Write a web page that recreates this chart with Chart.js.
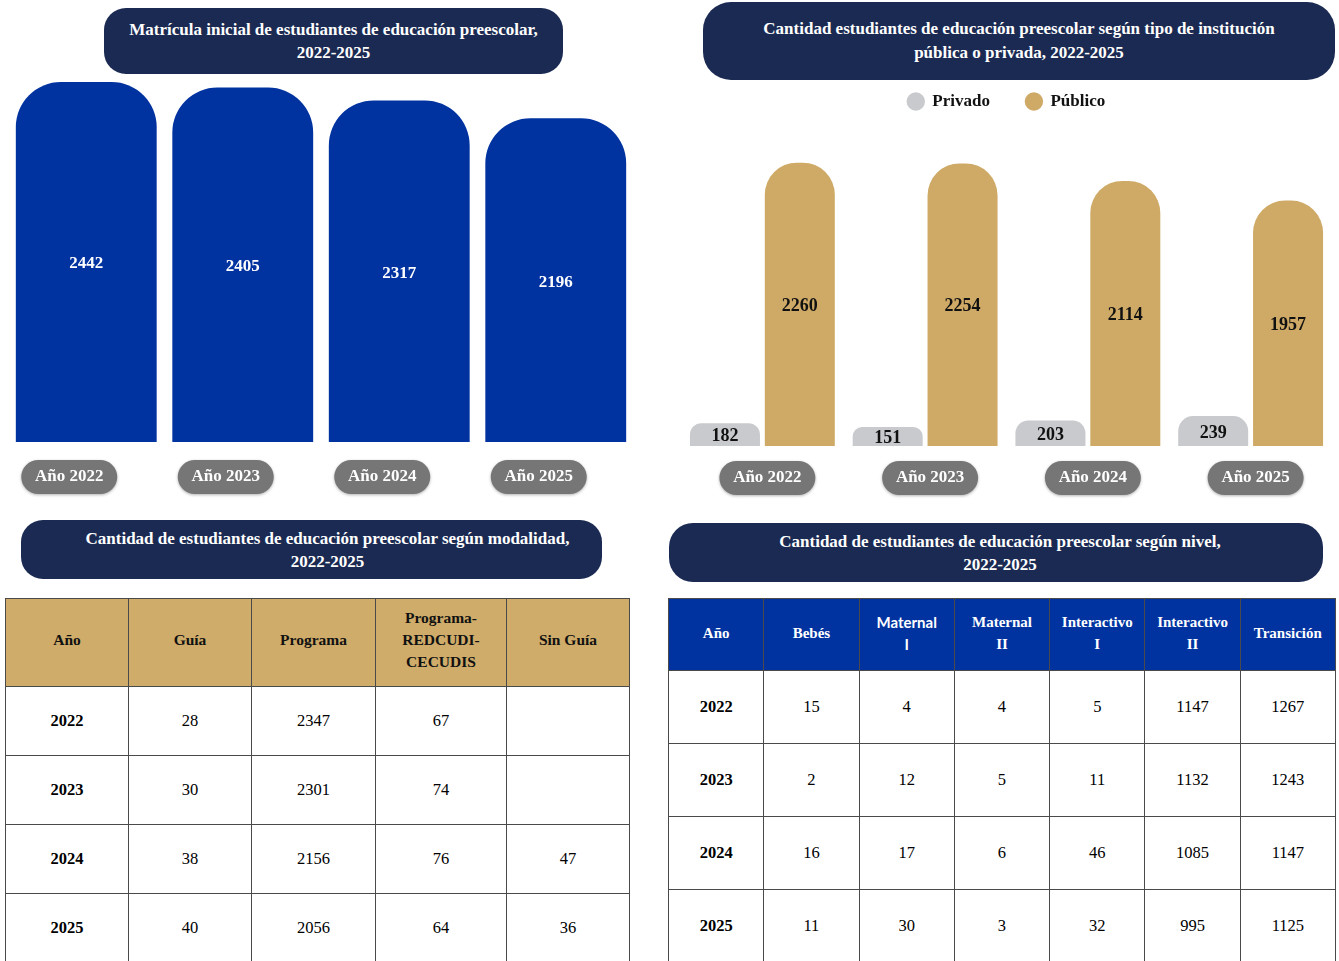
<!DOCTYPE html>
<html lang="es">
<head>
<meta charset="utf-8">
<title>Educación preescolar 2022-2025</title>
<script src="https://cdn.jsdelivr.net/npm/chart.js@4.4.1/dist/chart.umd.min.js"></script>
<style>
  body { margin: 0; background: #fff; font-family: "Liberation Serif", "Times New Roman", serif; }
  #hoja { position: relative; width: 1339px; height: 961px; overflow: hidden; }
  .titulo {
    position: absolute; box-sizing: border-box; background: #1b2a52; color: #fff;
    font-weight: bold; font-size: 17px; text-align: center;
    display: flex; flex-direction: column; justify-content: center;
  }
  .caja { position: absolute; }
  table { position: absolute; border-collapse: collapse; table-layout: fixed; }
  td, th { border: 1px solid #4a4a4a; text-align: center; padding: 0; font-size: 16.5px; }
  th { font-size: 15.5px; line-height: 22px; }
  #tablaModalidad th { background: #cfac69; color: #111; height: 88px; padding-bottom: 6px; box-sizing: border-box; }
  #tablaModalidad td { height: 68px; }
  #tablaNivel th { background: #0033a0; color: #fff; height: 72px; font-size: 15px; padding-bottom: 4px; box-sizing: border-box; }
  #tablaNivel td { height: 72px; }
  td.anio { font-weight: bold; }
  th.sans { font-family: Lato, "Liberation Sans", sans-serif; font-size: 17px; }
</style>
</head>
<body>
<div id="hoja">
  <div class="titulo" style="left:104px;top:8px;width:459px;height:66px;border-radius:22px;line-height:23px;">
    <div>Matrícula inicial de estudiantes de educación preescolar,</div><div>2022-2025</div>
  </div>
  <div class="titulo" style="left:703px;top:2px;width:632px;height:78px;border-radius:28px;line-height:24px;">
    <div>Cantidad estudiantes de educación preescolar según tipo de institución</div><div>pública o privada, 2022-2025</div>
  </div>
  <div class="titulo" style="left:21px;top:520px;width:581px;height:59px;border-radius:22px;line-height:23px;padding-left:32px;">
    <div>Cantidad de estudiantes de educación preescolar según modalidad,</div><div>2022-2025</div>
  </div>
  <div class="titulo" style="left:669px;top:523px;width:654px;height:59px;border-radius:24px;line-height:23px;padding-left:8px;">
    <div>Cantidad de estudiantes de educación preescolar según nivel,</div><div>2022-2025</div>
  </div>

  <div class="caja" style="left:0;top:80px;width:660px;height:426px;"><canvas id="graficoMatricula"></canvas></div>
  <div class="caja" style="left:680px;top:57px;width:659px;height:453px;"><canvas id="graficoTipo"></canvas></div>

  <table id="tablaModalidad" style="left:5px;top:598px;width:624px;">
    <colgroup><col style="width:123px"><col style="width:123px"><col style="width:124px"><col style="width:131px"><col style="width:123px"></colgroup>
  </table>
  <table id="tablaNivel" style="left:668px;top:598px;width:668px;"></table>
</div>

<script>
const anios = ['Año 2022', 'Año 2023', 'Año 2024', 'Año 2025'];
const matricula = [2442, 2405, 2317, 2196];
const privado = [182, 151, 203, 239];
const publico = [2260, 2254, 2114, 1957];

const aniosTabla = ['2022', '2023', '2024', '2025'];
const columnasModalidad = ['Año', 'Guía', 'Programa', 'Programa-<br>REDCUDI-<br>CECUDIS', 'Sin Guía'];
const guia = [28, 30, 38, 40];
const programa = [2347, 2301, 2156, 2056];
const redcudi = [67, 74, 76, 64];
const sinGuia = [null, null, 47, 36];

const columnasNivel = ['Año', 'Bebés', 'Maternal<br>I', 'Maternal<br>II', 'Interactivo<br>I', 'Interactivo<br>II', 'Transición'];
const bebes = [15, 2, 16, 11];
const maternal1 = [4, 12, 17, 30];
const maternal2 = [4, 5, 6, 3];
const interactivo1 = [5, 11, 46, 32];
const interactivo2 = [1147, 1132, 1085, 995];
const transicion = [1267, 1243, 1147, 1125];

const fuenteBold = { family: '"Liberation Serif", "Times New Roman", serif', weight: 'bold' };

// Etiquetas de valor dentro de cada barra
const etiquetas = {
  id: 'etiquetas',
  afterDatasetsDraw(chart, args, opts) {
    const ctx = chart.ctx;
    ctx.save();
    ctx.textAlign = 'center';
    ctx.textBaseline = 'middle';
    chart.data.datasets.forEach((ds, i) => {
      const meta = chart.getDatasetMeta(i);
      ctx.fillStyle = opts.color;
      ctx.font = `bold ${opts.size}px ${fuenteBold.family}`;
      meta.data.forEach((bar, j) => {
        const { x, y, base } = bar.getProps(['x', 'y', 'base'], true);
        ctx.fillText(ds.data[j], x, (y + base) / 2 + 2);
      });
    });
    ctx.restore();
  }
};

// Fondo gris redondeado detrás de las etiquetas del eje x
const pastillas = {
  id: 'pastillas',
  beforeDraw(chart, args, opts) {
    const escala = chart.scales.x;
    const ctx = chart.ctx;
    ctx.save();
    ctx.fillStyle = '#767676';
    ctx.shadowColor = 'rgba(0,0,0,0.3)';
    ctx.shadowBlur = 3;
    ctx.shadowOffsetY = 1;
    escala.ticks.forEach((t, i) => {
      const cx = escala.getPixelForTick(i) + opts.dx;
      const cy = escala.top + opts.dy;
      const w = 96, h = 34;
      ctx.beginPath();
      ctx.roundRect(cx - w / 2, cy - h / 2, w, h, h / 2);
      ctx.fill();
    });
    ctx.restore();
  }
};

function ejeX(padding, desplazamiento) {
  return {
    grid: { display: false, drawTicks: false },
    border: { display: false },
    ticks: { color: '#fff', font: { ...fuenteBold, size: 17 }, padding: padding, labelOffset: desplazamiento },
    afterFit: (s) => { s.height = 64; }
  };
}

new Chart(document.getElementById('graficoMatricula'), {
  type: 'bar',
  data: {
    labels: anios,
    datasets: [{
      label: 'Matrícula',
      data: matricula,
      backgroundColor: '#0033a0',
      borderRadius: { topLeft: 45, topRight: 45 },
      borderSkipped: 'bottom',
      categoryPercentage: 1,
      barPercentage: 0.9
    }]
  },
  options: {
    responsive: true,
    maintainAspectRatio: false,
    animation: false,
    layout: { padding: { top: 2, left: 8, right: 26, bottom: 0 } },
    scales: {
      x: ejeX(24, -17),
      y: { display: false, min: 0, max: Math.max(...matricula) }
    },
    plugins: {
      legend: { display: false },
      tooltip: { enabled: false },
      etiquetas: { color: '#fff', size: 17 },
      pastillas: { dx: -17, dy: 35 }
    }
  },
  plugins: [pastillas, etiquetas]
});

new Chart(document.getElementById('graficoTipo'), {
  type: 'bar',
  data: {
    labels: anios,
    datasets: [
      {
        label: 'Privado',
        data: privado,
        backgroundColor: '#c8cacd',
        borderRadius: { topLeft: 30, topRight: 30 },
        borderSkipped: 'bottom',
        categoryPercentage: 0.92,
        barPercentage: 0.935
      },
      {
        label: 'Público',
        data: publico,
        backgroundColor: '#cfaa66',
        borderRadius: { topLeft: 32, topRight: 32 },
        borderSkipped: 'bottom',
        categoryPercentage: 0.92,
        barPercentage: 0.935
      }
    ]
  },
  options: {
    responsive: true,
    maintainAspectRatio: false,
    animation: false,
    layout: { padding: { top: 0, left: 1, right: 7, bottom: 0 } },
    scales: {
      x: ejeX(21, 5),
      y: { display: false, min: 0, max: 2600 }
    },
    plugins: {
      legend: {
        position: 'top',
        labels: {
          usePointStyle: true,
          pointStyle: 'circle',
          boxWidth: 16,
          boxHeight: 13,
          padding: 36,
          color: '#111',
          font: { ...fuenteBold, size: 17 }
        }
      },
      tooltip: { enabled: false },
      etiquetas: { color: '#111', size: 18 },
      pastillas: { dx: 5, dy: 32 }
    }
  },
  plugins: [pastillas, etiquetas]
});

// Tablas
function armarTabla(id, columnas, filas) {
  const tabla = document.getElementById(id);
  let html = '<tr>' + columnas.map(c => `<th${c === 'Maternal<br>I' ? ' class="sans"' : ''}>${c}</th>`).join('') + '</tr>';
  aniosTabla.forEach((a, i) => {
    html += `<tr><td class="anio">${a}</td>` + filas.map(f => `<td>${f[i] == null ? '' : f[i]}</td>`).join('') + '</tr>';
  });
  tabla.insertAdjacentHTML('beforeend', html);
}

armarTabla('tablaModalidad', columnasModalidad, [guia, programa, redcudi, sinGuia]);
armarTabla('tablaNivel', columnasNivel, [bebes, maternal1, maternal2, interactivo1, interactivo2, transicion]);
</script>
</body>
</html>
